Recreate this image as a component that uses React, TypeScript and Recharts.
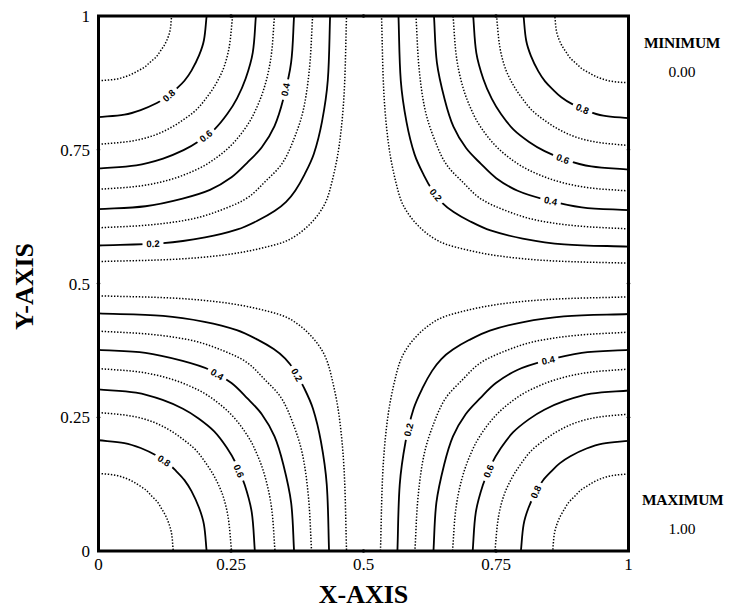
import { ScatterChart, Scatter, XAxis, YAxis, ReferenceArea, ReferenceDot } from "recharts";

const levels = [0.1, 0.2, 0.3, 0.4, 0.5, 0.6, 0.7, 0.8, 0.9];
const xTicks = [0, 0.25, 0.5, 0.75, 1];
const yTicks = [0, 0.25, 0.5, 0.75, 1];
const innerTicks = [0.25, 0.5, 0.75];

// half of each contour inside a quarter, from the side edge to the quarter's diagonal,
// as fractions of where that level meets the frame (p along x, q along y)
const half01 = [[0, 1], [0.32, 0.99], [0.53, 0.97], [0.68, 0.94], [0.77, 0.91], [0.85, 0.85]];
const half02 = [[0, 1], [0.28, 0.99], [0.46, 0.965], [0.6, 0.93], [0.69, 0.89], [0.76, 0.85], [0.81, 0.81]];
const half03 = [[0, 1], [0.25, 0.985], [0.45, 0.955], [0.6, 0.905], [0.7, 0.855], [0.78, 0.78]];
const half04 = [[0, 1], [0.24, 0.985], [0.43, 0.945], [0.57, 0.9], [0.68, 0.835], [0.76, 0.76]];
const half05 = [[0, 1], [0.24, 0.98], [0.42, 0.94], [0.57, 0.88], [0.66, 0.825], [0.75, 0.75]];
const half06 = [[0, 1], [0.24, 0.98], [0.41, 0.935], [0.54, 0.88], [0.64, 0.82], [0.74, 0.74]];
const half07 = [[0, 1], [0.24, 0.975], [0.4, 0.935], [0.53, 0.875], [0.63, 0.81], [0.73, 0.73]];
const half08 = [[0, 1], [0.24, 0.975], [0.39, 0.93], [0.54, 0.86], [0.64, 0.795], [0.72, 0.72]];
const half09 = [[0, 1], [0.24, 0.975], [0.42, 0.915], [0.56, 0.835], [0.63, 0.79], [0.71, 0.71]];
const halfShapes = [half01, half02, half03, half04, half05, half06, half07, half08, half09];

// where levels 0.1 .. 0.9 cut the frame, quarter by quarter
const blBottom = [0.468, 0.435, 0.402, 0.369, 0.333, 0.295, 0.251, 0.204, 0.141];
const blLeft = [0.477, 0.444, 0.411, 0.376, 0.341, 0.302, 0.259, 0.207, 0.145];
const tlTop = [0.468, 0.437, 0.404, 0.369, 0.332, 0.297, 0.253, 0.204, 0.138];
const tlLeft = [0.541, 0.571, 0.604, 0.639, 0.676, 0.715, 0.76, 0.811, 0.879];
const trTop = [0.534, 0.566, 0.599, 0.633, 0.669, 0.707, 0.751, 0.802, 0.861];
const trRight = [0.538, 0.569, 0.602, 0.637, 0.673, 0.713, 0.758, 0.809, 0.875];
const brBottom = [0.532, 0.564, 0.597, 0.632, 0.668, 0.706, 0.748, 0.797, 0.857];
const brRight = [0.475, 0.443, 0.409, 0.376, 0.34, 0.3, 0.256, 0.206, 0.144];

// contour labels: [level, x, y]
const blLabels = [[0.8, 0.122, 0.166], [0.6, 0.261, 0.148], [0.4, 0.223, 0.329], [0.2, 0.374, 0.329]];
const tlLabels = [[0.8, 0.135, 0.849], [0.6, 0.201, 0.778], [0.4, 0.355, 0.862], [0.2, 0.103, 0.569]];
const trLabels = [[0.8, 0.912, 0.824], [0.6, 0.874, 0.728], [0.4, 0.852, 0.65], [0.2, 0.632, 0.662]];
const brLabels = [[0.2, 0.588, 0.226], [0.4, 0.849, 0.354], [0.6, 0.739, 0.148], [0.8, 0.824, 0.111]];

const PLOT_W = 530;
const PLOT_H = 535;

type Pt = { x: number; y: number };

function contour(corner: number[], xEdge: number[], yEdge: number[], i: number): Pt[] {
  const half = halfShapes[i];
  const full = [...half, ...half.slice(0, -1).reverse().map(([p, q]) => [q, p])];
  return full.map(([p, q]) => ({
    x: corner[0] + p * (xEdge[i] - corner[0]),
    y: corner[1] + q * (yEdge[i] - corner[1]),
  }));
}

const quads = [
  { corner: [0, 0], xEdge: blBottom, yEdge: blLeft, labels: blLabels },
  { corner: [0, 1], xEdge: tlTop, yEdge: tlLeft, labels: tlLabels },
  { corner: [1, 1], xEdge: trTop, yEdge: trRight, labels: trLabels },
  { corner: [1, 0], xEdge: brBottom, yEdge: brRight, labels: brLabels },
];

const series = quads.map((q) => levels.map((_, i) => contour(q.corner, q.xEdge, q.yEdge, i)));

// snap a label onto its contour and turn it along the line
function pin(points: Pt[], lx: number, ly: number, level: number) {
  const px = lx * PLOT_W;
  const py = -ly * PLOT_H;
  let best = { d: Infinity, x: 0, y: 0, angle: 0 };
  for (let k = 0; k < points.length - 1; k++) {
    const ax = points[k].x * PLOT_W, ay = -points[k].y * PLOT_H;
    const bx = points[k + 1].x * PLOT_W, by = -points[k + 1].y * PLOT_H;
    const dx = bx - ax, dy = by - ay;
    const t = Math.max(0, Math.min(1, ((px - ax) * dx + (py - ay) * dy) / (dx * dx + dy * dy)));
    const qx = ax + t * dx, qy = ay + t * dy;
    const d = Math.hypot(px - qx, py - qy);
    if (d < best.d) best = { d, x: qx / PLOT_W, y: -qy / PLOT_H, angle: (Math.atan2(dy, dx) * 180) / Math.PI };
  }
  let angle = best.angle;
  if (angle > 90) angle -= 180;
  if (angle <= -90) angle += 180;
  return { x: best.x, y: best.y, text: level.toFixed(1), angle };
}

const labelPoints = quads.flatMap((q, qi) =>
  q.labels.map(([lv, lx, ly]) => pin(series[qi][levels.indexOf(lv)], lx, ly, lv))
);

// smooth curve through the points: tangent from the neighbours, handles scaled by segment length
function smoothCurve(context: any) {
  let pts: number[][] = [];
  const unit = (a: number[], b: number[]) => {
    const dx = b[0] - a[0], dy = b[1] - a[1];
    const l = Math.hypot(dx, dy) || 1;
    return [dx / l, dy / l];
  };
  return {
    areaStart() {},
    areaEnd() {},
    lineStart() {
      pts = [];
    },
    point(x: number, y: number) {
      pts.push([+x, +y]);
    },
    lineEnd() {
      const n = pts.length;
      if (!n) return;
      context.moveTo(pts[0][0], pts[0][1]);
      if (n === 1) return;
      const tan = pts.map((_, i) => unit(pts[Math.max(0, i - 1)], pts[Math.min(n - 1, i + 1)]));
      for (let i = 0; i < n - 1; i++) {
        const a = pts[i], b = pts[i + 1];
        const h = Math.hypot(b[0] - a[0], b[1] - a[1]) / 3;
        context.bezierCurveTo(
          a[0] + tan[i][0] * h,
          a[1] + tan[i][1] * h,
          b[0] - tan[i + 1][0] * h,
          b[1] - tan[i + 1][1] * h,
          b[0],
          b[1]
        );
      }
    },
  };
}

const serif = "'Liberation Serif', 'Times New Roman', serif";

const NoDot = () => <g />;

function ContourLabel(props: any) {
  const { cx, cy, payload } = props;
  return (
    <g transform={`translate(${cx},${cy}) rotate(${payload.angle})`}>
      <rect x={-10.5} y={-5} width={21} height={10} fill="#fff" />
      <text
        textAnchor="middle"
        dominantBaseline="central"
        fontSize={9.5}
        fontWeight="bold"
        fontFamily="'Liberation Sans', Arial, sans-serif"
        fill="#000"
      >
        {payload.text}
      </text>
    </g>
  );
}

function XTitle(props: any) {
  const vb = props.viewBox;
  return (
    <text x={vb.x + vb.width / 2} y={vb.y + 52} textAnchor="middle" fontSize={26} fontWeight="bold" fontFamily={serif} fill="#000">
      X-AXIS
    </text>
  );
}

function YTitle(props: any) {
  const vb = props.viewBox;
  const cx = vb.x + 24;
  const cy = vb.y + vb.height / 2 + 3;
  return (
    <text
      x={cx}
      y={cy}
      transform={`rotate(-90 ${cx} ${cy})`}
      textAnchor="middle"
      dominantBaseline="central"
      fontSize={26}
      fontWeight="bold"
      fontFamily={serif}
      fill="#000"
    >
      Y-AXIS
    </text>
  );
}

const sideText = (top: number, text: string, bold: boolean) => (
  <div
    style={{
      position: "absolute",
      left: 642,
      top,
      width: 80,
      textAlign: "center",
      fontFamily: serif,
      fontSize: 15.5,
      lineHeight: "16px",
      fontWeight: bold ? "bold" : "normal",
      color: "#000",
      letterSpacing: bold ? -0.3 : 0,
    }}
  >
    {text}
  </div>
);

export default function App() {
  return (
    <div style={{ position: "absolute", left: 0, top: 0, width: 730, height: 611, background: "#fff" }}>
      <ScatterChart width={730} height={611} margin={{ top: 16, right: 101.5, bottom: 0, left: 0 }}>
        <XAxis
          type="number"
          dataKey="x"
          domain={[0, 1]}
          ticks={xTicks}
          interval={0}
          axisLine={false}
          tickLine={false}
          tickSize={0}
          tickMargin={7}
          height={60}
          tick={{ fontSize: 17, fill: "#000", fontFamily: serif }}
          label={<XTitle />}
        />
        <YAxis
          type="number"
          dataKey="y"
          domain={[0, 1]}
          ticks={yTicks}
          interval={0}
          axisLine={false}
          tickLine={false}
          tickSize={0}
          tickMargin={8.5}
          width={98.5}
          tick={{ fontSize: 17, fill: "#000", fontFamily: serif }}
          label={<YTitle />}
        />
        {series.flatMap((quad, qi) =>
          quad.map((pts, i) => {
            const solid = i % 2 === 1;
            return (
              <Scatter
                key={`c-${qi}-${i}`}
                data={pts}
                line={{
                  stroke: "#000",
                  strokeWidth: solid ? 1.8 : 1.5,
                  strokeDasharray: solid ? undefined : "1.4 1.7",
                  fill: "none",
                }}
                lineJointType={smoothCurve as any}
                shape={NoDot}
                legendType="none"
                isAnimationActive={false}
              />
            );
          })
        )}
        <Scatter data={labelPoints} shape={ContourLabel} legendType="none" isAnimationActive={false} />
        <ReferenceArea x1={0} x2={1} y1={0} y2={1} fill="none" stroke="#000" strokeWidth={3} ifOverflow="visible" />
        {innerTicks.flatMap((v) => [
          <ReferenceDot key={`b${v}`} x={v} y={0} r={1.8} fill="#000" stroke="none" />,
          <ReferenceDot key={`t${v}`} x={v} y={1} r={1.8} fill="#000" stroke="none" />,
          <ReferenceDot key={`l${v}`} x={0} y={v} r={1.8} fill="#000" stroke="none" />,
          <ReferenceDot key={`r${v}`} x={1} y={v} r={1.8} fill="#000" stroke="none" />,
        ])}
      </ScatterChart>
      {sideText(35, "MINIMUM", true)}
      {sideText(64, "0.00", false)}
      {sideText(492, "MAXIMUM", true)}
      {sideText(521, "1.00", false)}
    </div>
  );
}
